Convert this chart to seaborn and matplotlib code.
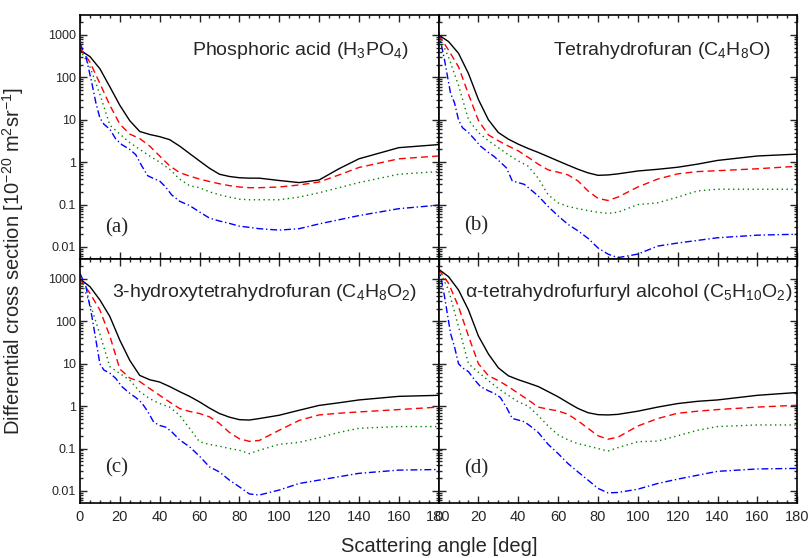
import matplotlib
matplotlib.use("Agg")
import matplotlib.pyplot as plt
from matplotlib.ticker import FixedLocator, MultipleLocator, LogLocator, NullFormatter
import numpy as np
import pandas as pd
import seaborn as sns

# scattering angles (deg) for the black / red / green curves
ANGLE = [0, 5, 10, 15, 20, 25, 30, 35, 40, 45, 50, 55, 60, 65, 70, 75, 80, 85,
         90, 100, 110, 120, 130, 140, 160, 180]
# the blue curve has more structure at small angles
ANGLE_BLUE = [0, 3, 6, 8, 10, 12, 15, 18, 21, 25, 28, 31, 34, 37, 40, 43, 46,
              50, 55, 60, 65, 70, 75, 80, 85, 90, 100, 110, 120, 140, 160, 180]

# (a) phosphoric acid
A_BLACK = [440, 310, 160, 60, 22, 9.5, 5.3, 4.5, 4.0, 3.4, 2.4, 1.6, 1.07, 0.72,
           0.52, 0.46, 0.43, 0.42, 0.42, 0.37, 0.33, 0.38, 0.7, 1.2, 2.2, 2.6]
A_RED = [500, 230, 72, 22, 7.9, 4.6, 3.6, 2.4, 1.4, 0.82, 0.57, 0.47, 0.4, 0.35,
         0.31, 0.28, 0.26, 0.25, 0.25, 0.26, 0.29, 0.34, 0.5, 0.75, 1.2, 1.4]
A_GREEN = [450, 178, 40, 7.5, 4.6, 2.9, 2.0, 1.4, 1.0, 0.68, 0.4, 0.28, 0.25,
           0.2, 0.17, 0.15, 0.134, 0.13, 0.13, 0.13, 0.15, 0.19, 0.25, 0.33,
           0.52, 0.6]
A_BLUE = [630, 310, 72, 25, 11, 7.9, 6.0, 3.5, 2.6, 2.0, 1.5, 0.82, 0.48, 0.41,
          0.36, 0.26, 0.17, 0.12, 0.095, 0.067, 0.048, 0.041, 0.036, 0.031,
          0.029, 0.027, 0.025, 0.027, 0.035, 0.055, 0.08, 0.097]

# (b) tetrahydrofuran
B_BLACK = [1000, 700, 370, 123, 30, 10, 5.0, 3.5, 2.66, 2.1, 1.7, 1.35, 1.07,
           0.85, 0.68, 0.56, 0.49, 0.5, 0.53, 0.62, 0.68, 0.76, 0.9, 1.1, 1.4,
           1.55]
B_RED = [1000, 440, 178, 40, 9.6, 4.4, 3.2, 2.4, 1.85, 1.3, 0.9, 0.66, 0.58,
         0.5, 0.36, 0.21, 0.14, 0.125, 0.15, 0.26, 0.4, 0.53, 0.6, 0.63, 0.7,
         0.8]
B_GREEN = [1000, 300, 65, 10, 5.0, 3.2, 2.2, 1.5, 1.07, 0.8, 0.42, 0.17, 0.11,
           0.09, 0.08, 0.072, 0.066, 0.062, 0.066, 0.1, 0.11, 0.15, 0.21, 0.23,
           0.23, 0.23]
B_BLUE = [1200, 255, 42, 25, 10, 6.5, 5.0, 3.5, 2.4, 1.7, 1.35, 1.0, 0.74,
          0.36, 0.33, 0.30, 0.23, 0.16, 0.09, 0.054, 0.034, 0.024, 0.016,
          0.0095, 0.0068, 0.0056, 0.0068, 0.0105, 0.0124, 0.0165, 0.019, 0.02]

# (c) 3-hydroxytetrahydrofuran
C_BLACK = [1000, 660, 320, 130, 36, 12, 5.3, 4.2, 3.7, 2.9, 2.2, 1.7, 1.26,
           0.9, 0.67, 0.55, 0.48, 0.47, 0.51, 0.61, 0.8, 1.04, 1.2, 1.4, 1.7,
           1.8]
C_RED = [1000, 460, 185, 45, 7.5, 4.6, 3.8, 2.6, 1.8, 1.25, 0.88, 0.75, 0.67,
         0.56, 0.39, 0.24, 0.17, 0.148, 0.155, 0.27, 0.46, 0.62, 0.68, 0.73,
         0.83, 0.95]
C_GREEN = [1000, 266, 50, 8.5, 5.9, 4.1, 2.2, 1.5, 1.15, 0.95, 0.61, 0.3,
           0.144, 0.125, 0.114, 0.1, 0.091, 0.076, 0.091, 0.126, 0.14, 0.18,
           0.24, 0.3, 0.33, 0.33]
C_BLUE = [1360, 660, 130, 36, 10, 7.1, 6.0, 4.5, 2.9, 2.0, 1.6, 1.2, 0.75,
          0.42, 0.35, 0.32, 0.25, 0.16, 0.11, 0.066, 0.037, 0.028, 0.018,
          0.0125, 0.0085, 0.008, 0.0105, 0.015, 0.018, 0.026, 0.031, 0.032]

# (d) alpha-tetrahydrofurfuryl alcohol
D_BLACK = [1700, 1130, 550, 185, 45, 17, 8.0, 5.2, 4.2, 3.5, 2.9, 2.2, 1.66,
           1.2, 0.88, 0.7, 0.63, 0.62, 0.64, 0.76, 0.95, 1.15, 1.3, 1.4, 1.8,
           2.1]
D_RED = [1700, 790, 222, 45, 10, 5.2, 4.0, 2.9, 2.0, 1.4, 0.95, 0.85, 0.77,
         0.64, 0.45, 0.3, 0.2, 0.166, 0.185, 0.34, 0.51, 0.68, 0.76, 0.83,
         0.95, 1.05]
D_GREEN = [1700, 550, 75, 10, 6.3, 4.0, 2.6, 1.8, 1.26, 1.0, 0.6, 0.34, 0.21,
           0.16, 0.13, 0.115, 0.1, 0.087, 0.105, 0.145, 0.15, 0.2, 0.27, 0.33,
           0.36, 0.36]
D_BLUE = [2100, 380, 52, 25, 10, 8.0, 6.5, 4.2, 2.9, 2.3, 2.0, 1.6, 0.95,
          0.51, 0.47, 0.43, 0.34, 0.24, 0.125, 0.076, 0.044, 0.028, 0.018,
          0.0115, 0.009, 0.0092, 0.011, 0.015, 0.019, 0.029, 0.033, 0.034]

TITLES = ["Phosphoric acid (H$_3$PO$_4$)",
          "Tetrahydrofuran (C$_4$H$_8$O)",
          "3-hydroxytetrahydrofuran (C$_4$H$_8$O$_2$)",
          "\u03b1-tetrahydrofurfuryl alcohol (C$_5$H$_{10}$O$_2$)"]
LABELS = ["(a)", "(b)", "(c)", "(d)"]
PANELS = [(A_BLACK, A_RED, A_GREEN, A_BLUE),
          (B_BLACK, B_RED, B_GREEN, B_BLUE),
          (C_BLACK, C_RED, C_GREEN, C_BLUE),
          (D_BLACK, D_RED, D_GREEN, D_BLUE)]
YTICKS = [0.01, 0.1, 1, 10, 100, 1000]
YTICKLABELS = ["0.01", "0.1", "1", "10", "100", "1000"]

sns.set_style("ticks")
plt.rcParams["font.family"] = ["Liberation Sans", "DejaVu Sans"]
plt.rcParams["mathtext.fontset"] = "custom"
plt.rcParams["mathtext.rm"] = "Liberation Sans"
plt.rcParams["mathtext.it"] = "Liberation Sans:italic"
plt.rcParams["mathtext.bf"] = "Liberation Sans:bold"

fig, axes = plt.subplots(2, 2, figsize=(8.11, 5.58), dpi=100)
fig.subplots_adjust(left=0.0986, right=0.983, top=0.973, bottom=0.0986,
                    wspace=0, hspace=0)

styles = [("black", "-"), ("red", (0, (5, 3))), ("green", (0, (1, 2.5))),
          ("blue", (0, (5, 2, 1, 2)))]

for i, ax in enumerate(axes.flat):
    black, red, green, blue = PANELS[i]
    series = [(ANGLE, black), (ANGLE, red), (ANGLE, green), (ANGLE_BLUE, blue)]
    for (xs, ys), (col, ls) in zip(series, styles):
        df = pd.DataFrame({"angle": xs, "dcs": ys})
        sns.lineplot(data=df, x="angle", y="dcs", ax=ax, color=col,
                     linestyle=ls, linewidth=1.0)
    ax.set_yscale("log")
    ax.set_xlim(0, 180)
    ax.set_ylim(0.0052, 2950)
    ax.xaxis.set_major_locator(MultipleLocator(20))
    ax.xaxis.set_minor_locator(MultipleLocator(5))
    ax.yaxis.set_major_locator(FixedLocator(YTICKS))
    ax.yaxis.set_minor_locator(LogLocator(base=10, subs=np.arange(2, 10)))
    ax.yaxis.set_minor_formatter(NullFormatter())
    ax.tick_params(which="both", direction="in", top=True, right=True,
                   width=1.0)
    ax.tick_params(which="major", length=5)
    ax.tick_params(which="minor", length=2.5)
    ax.tick_params(axis="x", labelsize=10.5, pad=5)
    ax.tick_params(axis="y", labelsize=9, pad=3)
    for sp in ax.spines.values():
        sp.set_linewidth(1.2)
        sp.set_color("black")
    ax.set_xlabel("")
    ax.set_ylabel("")
    if i % 2 == 0:
        ax.set_yticks(YTICKS)
        ax.set_yticklabels(YTICKLABELS)
    else:
        ax.set_yticklabels([])
    if i < 2:
        ax.set_xticklabels([])
    else:
        ax.set_xticks(range(0, 181, 20))
        ax.set_xticklabels([str(v) for v in range(0, 181, 20)])

title_pos = [(0.916, 0.856), (0.925, 0.856), (0.94, 0.861), (0.986, 0.861)]
label_pos = [(0.07, 0.128), (0.07, 0.135), (0.07, 0.143), (0.07, 0.138)]
for i, ax in enumerate(axes.flat):
    tx, ty = title_pos[i]
    ax.text(tx, ty, TITLES[i], transform=ax.transAxes, ha="right",
            va="center", fontsize=14)
    lx, ly = label_pos[i]
    ax.text(lx, ly, LABELS[i], transform=ax.transAxes, ha="left",
            va="center", fontsize=15, family="Liberation Serif")

fig.text(0.542, 0.02, "Scattering angle [deg]", ha="center", va="center",
         fontsize=14.5)
fig.text(0.016, 0.533,
         "Differential cross section [10$^{-20}$ m$^{2}$sr$^{-1}$]",
         ha="center", va="center", rotation=90, fontsize=14.5)

fig.savefig("out.png", dpi=100)
